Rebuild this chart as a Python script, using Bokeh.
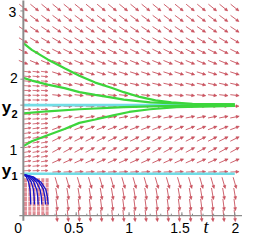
import numpy as np
from bokeh.plotting import figure
from bokeh.models import Range1d
from bokeh.embed import file_html
from bokeh.resources import INLINE
from bokeh.core.properties import value

# ---------------- data ----------------
T_MIN, T_MAX = 0.0, 2.0
Y_MIN, Y_TOP = 0.0, 3.05
N_COLS = 20
# dy/dt read for each arrow row (autonomous field), from y=0 (bottom) to y=3.05 (top)
row_slopes = [-15.4, -12.3, -9.2, -5.4, 0.08, 0.69, 0.84, 0.77, 0.58, 0.31,
              0.0, -0.18, -0.34, -0.49, -0.64, -0.77, -0.92, -1.04, -1.15, -1.26]

y1_level = 0.615
y2_level = 1.62

# green solution curves
g1_t = [0, 0.08, 0.23, 0.39, 0.53, 0.68, 0.84, 0.95, 1.1, 1.25, 1.4, 1.6, 2.0]
g1_y = [2.53, 2.43, 2.29, 2.16, 2.05, 1.95, 1.87, 1.81, 1.74, 1.69, 1.66, 1.64, 1.63]
g2_t = [0, 0.08, 0.23, 0.39, 0.53, 0.68, 0.84, 0.95, 1.2, 1.5, 2.0]
g2_y = [2.02, 1.98, 1.92, 1.87, 1.81, 1.77, 1.73, 1.70, 1.66, 1.64, 1.63]
g3_t = [0, 0.23, 0.53, 0.95, 1.3, 2.0]
g3_y = [1.50, 1.53, 1.56, 1.59, 1.605, 1.61]
g4_t = [0, 0.08, 0.23, 0.39, 0.53, 0.68, 0.85, 1.0, 1.2, 1.45, 2.0]
g4_y = [1.02, 1.09, 1.18, 1.27, 1.36, 1.41, 1.47, 1.52, 1.56, 1.59, 1.61]

# blue solution curves (start just below y1, fall quickly)
blue_y = [0.605, 0.57, 0.495, 0.385, 0.275, 0.165]
b1_t = [0, 0.028, 0.049, 0.063, 0.068, 0.070]
b2_t = [0, 0.042, 0.074, 0.095, 0.102, 0.105]
b3_t = [0, 0.056, 0.098, 0.126, 0.136, 0.140]
b4_t = [0, 0.070, 0.123, 0.158, 0.170, 0.175]
b5_t = [0, 0.084, 0.147, 0.189, 0.204, 0.210]
b6_t = [0, 0.094, 0.165, 0.212, 0.228, 0.235]

x_ticks = [0, 0.5, 1, 1.5, 2]
x_tick_labels = ["0", "0.5", "1", "1.5", "2"]
y_ticks = [1, 2, 3]
y_tick_labels = ["1", "2", "3"]

# ---------------- layout ----------------
W, H = 242, 236
X0_PX, Y0_PX = 22.85, 215.2   # pixel position of (t=0, y=0) inside the figure
PX_T, PX_Y = 105.7, 68.25     # pixels per unit

p = figure(width=W, height=H,
           x_range=Range1d(-X0_PX / PX_T, (W - X0_PX) / PX_T),
           y_range=Range1d(-(H - Y0_PX) / PX_Y, Y0_PX / PX_Y),
           output_backend="svg", toolbar_location=None,
           x_axis_location=None, y_axis_location=None, min_border=0)
p.grid.visible = False
p.outline_line_color = None
p.background_fill_color = "white"

ARROW = "#c23c4a"


def arrows(ts, ys, ms, length_fn, head_len=3.0, head_w=1.4):
    sx0, sy0, sx1, sy1, hx, hy = [], [], [], [], [], []
    for t, y, m in zip(ts, ys, ms):
        dx, dy = PX_T, m * PX_Y
        n = np.hypot(dx, dy)
        ux, uy = dx / n, dy / n
        L = length_fn(uy)
        tipx, tipy = L / 2 * ux, L / 2 * uy
        tailx, taily = -tipx, -tipy
        bx, by = tipx - head_len * ux, tipy - head_len * uy
        px_, py_ = -uy, ux
        sx0.append(t + tailx / PX_T); sy0.append(y + taily / PX_Y)
        sx1.append(t + bx / PX_T); sy1.append(y + by / PX_Y)
        hx.append([t + tipx / PX_T, t + (bx + head_w * px_) / PX_T, t + (bx - head_w * px_) / PX_T])
        hy.append([y + tipy / PX_Y, y + (by + head_w * py_) / PX_Y, y + (by - head_w * py_) / PX_Y])
    return sx0, sy0, sx1, sy1, hx, hy


# main 20x20 field
col_t = np.linspace(T_MIN, T_MAX, N_COLS)
row_y = np.linspace(Y_MIN, Y_TOP, len(row_slopes))
TT, YY = np.meshgrid(col_t, row_y)
MM = np.tile(np.array(row_slopes)[:, None], (1, N_COLS))
mask = ~((TT < 0.25) & (YY < 2.15))
a = arrows(TT[mask], YY[mask], MM[mask], lambda uy: 8.5 + 3.3 * abs(uy))
p.segment(a[0], a[1], a[2], a[3], line_color=ARROW, line_width=1.0, line_alpha=0.8)
p.patches(a[4], a[5], fill_color=ARROW, line_color=ARROW, line_width=0.5, fill_alpha=0.85)

# dense strip near t=0 (above y1): short nearly flat arrows
dense_t = [0.04, 0.12, 0.20]
dense_y = np.arange(0.66, 2.15, 0.069)
DT, DY = np.meshgrid(dense_t, dense_y)
DM = np.interp(DY.ravel(), row_y, row_slopes) * 0.35
d = arrows(DT.ravel(), DY.ravel(), DM, lambda uy: 7.0, head_len=2.3, head_w=1.1)
p.segment(d[0], d[1], d[2], d[3], line_color=ARROW, line_width=1.0, line_alpha=0.7)
p.patches(d[4], d[5], fill_color=ARROW, line_color=ARROW, line_width=0.5, fill_alpha=0.7)

# dense block below y1: packed vertical arrows
low_t = np.linspace(0.02, 0.225, 6)
low_y = np.arange(0.035, 0.58, 0.069)
LT, LY = np.meshgrid(low_t, low_y)
p.segment(LT.ravel(), LY.ravel() + 2.1 / PX_Y, LT.ravel(), LY.ravel() - 2.1 / PX_Y,
          line_color="#d2505c", line_width=3.0, line_alpha=0.65)

# equilibrium lines
p.line([T_MIN, T_MAX], [y1_level, y1_level], line_color="#72dde6", line_width=2.4)
p.line([T_MIN, T_MAX], [y2_level, y2_level], line_color="#72dde6", line_width=2.8)

# green curves
for gt, gy in [(g1_t, g1_y), (g2_t, g2_y), (g3_t, g3_y), (g4_t, g4_y)]:
    p.line(gt, gy, line_color="#3cd63c", line_width=2.2)

# blue curves
for bt in [b1_t, b2_t, b3_t, b4_t, b5_t, b6_t]:
    p.line(bt, blue_y, line_color="#1414c8", line_width=1.3)

# axes
p.line([0, 0], [-5 / PX_Y, 3.3], line_color="#8c8c8c", line_width=2)
p.line([-4 / PX_T, 2.2], [0, 0], line_color="#8c8c8c", line_width=1.2)
minor = np.arange(0.1, 2.05, 0.1)
p.segment(minor, 0, minor, 2 / PX_Y, line_color="#8c8c8c", line_width=1)
p.segment(x_ticks[1:], 0, x_ticks[1:], 3.5 / PX_Y, line_color="#8c8c8c", line_width=1)
p.segment(-3 / PX_T, y_ticks, 0, y_ticks, line_color="#8c8c8c", line_width=1)
p.segment(-3 / PX_T, [y1_level, y2_level], 0, [y1_level, y2_level], line_color="#8c8c8c", line_width=1)

# tick labels
p.text(x=x_ticks, y=[0] * len(x_ticks), text=x_tick_labels,
       x_offset=[-5.2, -2.4, 0, -1.9, 0.6], y_offset=[12.5] * len(x_ticks),
       text_font=value("Liberation Sans"), text_font_size="14px",
       text_align="center", text_baseline="middle", text_color="black")
p.text(x=[0] * len(y_ticks), y=y_ticks, text=y_tick_labels,
       x_offset=[-6.0, -5.5, -7.0], y_offset=[3.0, -1.3, 1.0],
       text_font=value("Liberation Sans"), text_font_size="14px",
       text_align="right", text_baseline="middle", text_color="black")
p.text(x=[1.729], y=[0], text=["t"], y_offset=[11.5],
       text_font=value("Liberation Serif"), text_font_style="italic", text_font_size="18px",
       text_align="center", text_baseline="middle", text_color="black")
# y1 / y2 labels
p.text(x=[0, 0], y=[y1_level, y2_level], text=["y", "y"],
       x_offset=[-21.5, -21.5], y_offset=[-3.2, 2.1],
       text_font=value("Liberation Sans"), text_font_style="bold", text_font_size="17px",
       text_align="left", text_baseline="alphabetic", text_color="black")
p.text(x=[0, 0], y=[y1_level, y2_level], text=["1", "2"],
       x_offset=[-11.8, -11.8], y_offset=[2.0, 8.7],
       text_font=value("Liberation Sans"), text_font_style="bold", text_font_size="11px",
       text_align="left", text_baseline="alphabetic", text_color="black")

open("out.html", "w").write(file_html(p, INLINE))
